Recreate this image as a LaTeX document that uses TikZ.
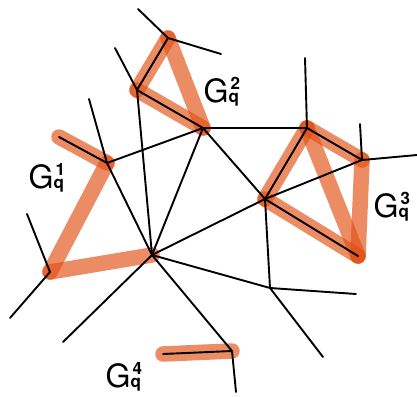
\documentclass[tikz,border=0pt]{standalone}
\usepackage{fontspec}
\newfontfamily\heros{TeX Gyre Heros}
\definecolor{bandc}{RGB}{225,78,18}
\newcommand\subf{\fontsize{17}{17}\selectfont\bfseries}
\newcommand\glab[1]{G\rlap{\hspace{2pt}\raisebox{13pt}{\subf #1}}{\subf q}}
\begin{document}
\begin{tikzpicture}[x=1pt,y=-1pt,
  band/.style={draw=bandc,draw opacity=0.65,line width=15.5pt,line cap=round},
  edge/.style={draw=black,line width=1.9pt,line cap=round,line join=round},
  lab/.style={font=\heros\fontsize{32}{32}\selectfont,inner sep=0pt,anchor=base west}]
\useasboundingbox (0,0) rectangle (417,396);
% vertices
\coordinate (A) at (168,38);
\coordinate (B) at (137,90);
\coordinate (C) at (203,128);
\coordinate (D) at (107,163);
\coordinate (E) at (152,255);
\coordinate (F) at (50,272);
\coordinate (G) at (265,199);
\coordinate (H) at (270,288);
\coordinate (I) at (232,351);
\coordinate (J) at (307,128);
\coordinate (K) at (362,160);
\coordinate (L) at (358,256);
% free ends
\coordinate (a1) at (138,9);
\coordinate (a2) at (221,54);
\coordinate (b1) at (115,48);
\coordinate (d1) at (59,137);
\coordinate (d2) at (89,99);
\coordinate (f1) at (27,214);
\coordinate (f2) at (10,318);
\coordinate (e1) at (63,342);
\coordinate (j1) at (305,58);
\coordinate (k1) at (360,124);
\coordinate (k2) at (417,155);
\coordinate (h1) at (356,294);
\coordinate (h2) at (323,357);
\coordinate (i1) at (163,354);
\coordinate (i2) at (236,392);
% orange bands
\draw[band] (d1) -- (D);
\draw[band] (D) -- (F);
\draw[band] (F) -- (E);
\draw[band] (A) -- (B);
\draw[band] (B) -- (C);
\draw[band] (C) -- (A);
\draw[band] (J) -- (K);
\draw[band] (K) -- (L);
\draw[band] (L) -- (J);
\draw[band] (L) -- (G);
\draw[band] (G) -- (J);
\draw[band] (i1) -- (I);
% black edges
\draw[edge] (a1) -- (A) -- (a2);
\draw[edge] (A) -- (B);
\draw[edge] (b1) -- (B) -- (E);
\draw[edge] (B) -- (C);
\draw[edge] (C) -- (J);
\draw[edge] (C) -- (G);
\draw[edge] (C) -- (E);
\draw[edge] (d1) -- (D) -- (C);
\draw[edge] (d2) -- (D) -- (E);
\draw[edge] (E) -- (G);
\draw[edge] (E) -- (H);
\draw[edge] (E) -- (I);
\draw[edge] (E) -- (e1);
\draw[edge] (f1) -- (F) -- (f2);
\draw[edge] (G) -- (J);
\draw[edge] (G) -- (K);
\draw[edge] (G) -- (L);
\draw[edge] (G) -- (H);
\draw[edge] (j1) -- (J) -- (K);
\draw[edge] (k1) -- (K) -- (k2);
\draw[edge] (h1) -- (H) -- (h2);
\draw[edge] (i1) -- (I) -- (i2);
% labels
\node[lab] (g1) at (28.5,188) {\glab{1}};
\node[lab] (g2) at (203.5,102) {\glab{2}};
\node[lab] (g3) at (373.5,217) {\glab{3}};
\node[lab] (g4) at (105.5,387) {\glab{4}};
\end{tikzpicture}
\end{document}
